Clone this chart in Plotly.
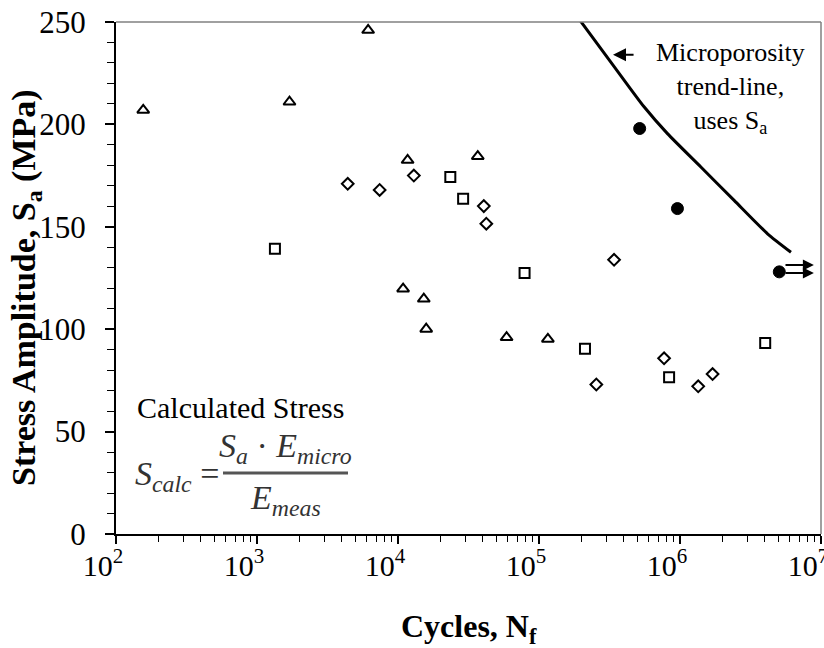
import math
import plotly.graph_objects as go

# Fatigue data: cycles to failure and stress amplitude (MPa) per specimen group
tri_cycles = [156, 1700, 6140, 11700, 36800, 10870, 15240, 15850, 58900, 115600]
tri_stress = [207, 211, 246, 182.5, 184.4, 119.7, 114.8, 100.1, 96.0, 95.2]

dia_cycles = [4400, 7410, 12950, 40600, 42300, 340600, 255000, 771000, 1346000, 1702000]
dia_stress = [171, 168, 175, 160.1, 151.5, 133.9, 73.0, 85.8, 72.1, 78.1]

sq_cycles = [1340, 23500, 28970, 79000, 211900, 837000, 4020000]
sq_stress = [139.3, 174.3, 163.7, 127.4, 90.4, 76.5, 93.3]

dot_cycles = [517600, 959000, 5060000]
dot_stress = [198, 158.9, 128]

# Microporosity trend-line
trend_cycles = [185000, 330000, 556000, 815000, 1406000, 2421000, 4178000, 6124000]
trend_stress = [253, 229.6, 208.6, 195.5, 179.2, 162.9, 146.6, 137.6]

# Run-out arrows (stress levels)
runout_stress = [131.3, 127.5]

x_tickvals = [1e2, 1e3, 1e4, 1e5, 1e6, 1e7]
x_ticktext = ["10<sup>2</sup>", "10<sup>3</sup>", "10<sup>4</sup>",
              "10<sup>5</sup>", "10<sup>6</sup>", "10<sup>7</sup>"]
y_tickvals = [0, 50, 100, 150, 200, 250]

SERIF = "Liberation Serif, Times New Roman, serif"
W, H = 824, 648
ML, MR, MT, MB = 116, 3, 22, 114

fig = go.Figure()

open_marker = dict(color="white", line=dict(color="black", width=2))

fig.add_trace(go.Scatter(x=trend_cycles, y=trend_stress, mode="lines",
                         line=dict(color="black", width=3, shape="spline", smoothing=0.6),
                         showlegend=False))
fig.add_trace(go.Scatter(x=tri_cycles, y=tri_stress, mode="markers",
                         marker=dict(symbol="triangle-up", size=10.5, **open_marker),
                         showlegend=False))
fig.add_trace(go.Scatter(x=dia_cycles, y=dia_stress, mode="markers",
                         marker=dict(symbol="diamond", size=9, **open_marker),
                         showlegend=False))
fig.add_trace(go.Scatter(x=sq_cycles, y=sq_stress, mode="markers",
                         marker=dict(symbol="square", size=10, **open_marker),
                         showlegend=False))
fig.add_trace(go.Scatter(x=dot_cycles, y=dot_stress, mode="markers",
                         marker=dict(symbol="circle", size=12, color="black",
                                     line=dict(color="black", width=1)),
                         showlegend=False))


def px_x(px):
    return (px - ML) / (W - ML - MR)


def px_y(py):
    return (H - MB - py) / (H - MT - MB)


def note(px, py, text, font, **kw):
    d = dict(x=px_x(px), y=px_y(py), xref="paper", yref="paper",
             xanchor="center", yanchor="middle", text=text,
             showarrow=False, font=font)
    d.update(kw)
    return d


annotations = []

# run-out arrows from the last filled point
run_tail = math.log10(dot_cycles[-1] * 1.08)
run_head = math.log10(8.9e6)
for s in runout_stress:
    annotations.append(dict(x=run_head, y=s, xref="x", yref="y",
                            ax=run_tail, ay=s, axref="x", ayref="y",
                            text="", showarrow=True, arrowhead=2,
                            arrowsize=1.1, arrowwidth=2, arrowcolor="black"))

# trend-line label and pointer
annotations.append(dict(x=math.log10(335000), y=234, xref="x", yref="y",
                        ax=math.log10(480000), ay=234, axref="x", ayref="y",
                        text="", showarrow=True, arrowhead=2, arrowsize=1.3,
                        arrowwidth=2, arrowcolor="black"))
annotations.append(note(730, 88, "Microporosity<br>trend-line,<br>uses S<sub>a</sub>",
                        dict(family=SERIF, size=26, color="black"), align="center"))

# calculated stress note
annotations.append(note(240, 407, "Calculated Stress",
                        dict(family=SERIF, size=30, color="black")))
eq_font = dict(family=SERIF, size=34, color="#333333")
annotations.append(note(133, 476, "<i>S</i><sub><i>calc</i></sub> =", eq_font,
                        xanchor="left"))
annotations.append(note(285, 448,
                        "<i>S</i><sub><i>a</i></sub> · <i>E</i><sub><i>micro</i></sub>",
                        eq_font))
annotations.append(note(285, 500, "<i>E</i><sub><i>meas</i></sub>", eq_font))

# axis titles
annotations.append(note(469, 628, "<b>Cycles, N<sub>f</sub></b>",
                        dict(family=SERIF, size=32, color="black")))
annotations.append(note(26, 288, "<b>Stress Amplitude, S<sub>a</sub> (MPa)</b>",
                        dict(family=SERIF, size=34, color="black"), textangle=-90))

shapes = [
    # fraction bar
    dict(type="line", xref="paper", yref="paper",
         x0=px_x(223), x1=px_x(348), y0=px_y(473), y1=px_y(473),
         line=dict(color="#555555", width=3)),
    # grey frame on top and right
    dict(type="line", xref="paper", yref="paper", x0=0, x1=1, y0=1, y1=1,
         line=dict(color="#808080", width=1.5)),
    dict(type="line", xref="paper", yref="paper", x0=1, x1=1, y0=0, y1=1,
         line=dict(color="#808080", width=1.5)),
]

fig.update_layout(
    width=W, height=H,
    margin=dict(l=ML, r=MR, t=MT, b=MB, pad=0),
    paper_bgcolor="white", plot_bgcolor="white",
    font=dict(family=SERIF, size=31, color="black"),
    annotations=annotations, shapes=shapes,
    showlegend=False,
)

fig.update_xaxes(
    type="log", range=[2, 7], showgrid=False, zeroline=False,
    showline=True, linecolor="black", linewidth=2,
    ticks="outside", ticklen=8, tickwidth=1.5, tickcolor="black",
    tickvals=x_tickvals, ticktext=x_ticktext,
    tickfont=dict(family=SERIF, size=30, color="black"),
    ticklabelshift=-13, ticklabelstandoff=-4, ticklabeloverflow="allow",
    minor=dict(ticks="outside", ticklen=6, tickwidth=1.2, tickcolor="black",
               dtick="D1", showgrid=False),
    automargin=False,
)
fig.update_yaxes(
    range=[0, 250], showgrid=False, zeroline=False,
    showline=True, linecolor="black", linewidth=2,
    ticks="outside", ticklen=9, tickwidth=1.5, tickcolor="black",
    tickvals=y_tickvals,
    tickfont=dict(family=SERIF, size=31, color="black"),
    ticklabelstandoff=13,
    minor=dict(ticks="outside", ticklen=7, tickwidth=1.2, tickcolor="black",
               dtick=10, showgrid=False),
    automargin=False,
)

fig.write_html("out.html")
